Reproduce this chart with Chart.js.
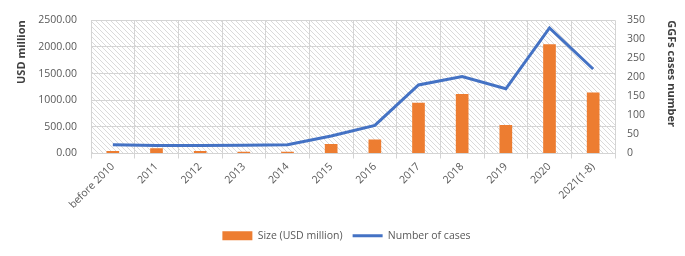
<!DOCTYPE html>
<html>
<head>
<meta charset="utf-8">
<script src="https://cdn.jsdelivr.net/npm/chart.js@4/dist/chart.umd.min.js"></script>
<style>
  html, body { margin: 0; padding: 0; background: #fff; }
  #wrap { width: 685px; height: 256px; }
</style>
</head>
<body>
<div id="wrap"><canvas id="ggfChart" width="685" height="256"></canvas></div>
<script>
const categories = ['before 2010', '2011', '2012', '2013', '2014', '2015', '2016', '2017', '2018', '2019', '2020', '2021(1-8)'];
const sizeUsd = [48, 97, 45, 35, 33, 177, 261, 954, 1119, 535, 2049, 1144];
const caseCount = [23, 21, 21, 22, 23, 46, 74, 180, 202, 170, 330, 222];
const leftTicks = [0, 500, 1000, 1500, 2000, 2500];
const rightTicks = [0, 50, 100, 150, 200, 250, 300, 350];

const FONT = '"Open Sans", "Liberation Sans", sans-serif';
const TICK_COLOR = '#595959';
const GRID = '#d4d4d4';

// diagonal hatch behind the plot area
function makeHatch() {
  const c = document.createElement('canvas');
  c.width = 5; c.height = 5;
  const g = c.getContext('2d');
  g.fillStyle = '#ffffff';
  g.fillRect(0, 0, 5, 5);
  g.strokeStyle = '#d6d6d6';
  g.lineWidth = 0.9;
  g.beginPath();
  g.moveTo(-1, -1); g.lineTo(6, 6);
  g.moveTo(-1, 4); g.lineTo(1, 6);
  g.moveTo(4, -1); g.lineTo(6, 1);
  g.stroke();
  return c;
}

const hatchPlugin = {
  id: 'hatch',
  beforeDraw(chart) {
    const { ctx, chartArea: a } = chart;
    ctx.save();
    ctx.fillStyle = ctx.createPattern(makeHatch(), 'repeat');
    ctx.fillRect(a.left, a.top, a.right - a.left, a.bottom - a.top);
    ctx.restore();
  }
};

new Chart(document.getElementById('ggfChart'), {
  data: {
    labels: categories,
    datasets: [
      {
        type: 'line',
        label: 'Number of cases',
        data: caseCount,
        yAxisID: 'yCases',
        borderColor: '#4472c4',
        backgroundColor: '#4472c4',
        borderWidth: 3,
        pointRadius: 0,
        tension: 0,
        order: 0
      },
      {
        type: 'bar',
        label: 'Size (USD million)',
        data: sizeUsd,
        yAxisID: 'ySize',
        backgroundColor: '#ed7d31',
        barPercentage: 0.29,
        categoryPercentage: 1,
        order: 1
      }
    ]
  },
  options: {
    responsive: false,
    animation: false,
    layout: { padding: { top: 12, left: 15, right: 7, bottom: 5 } },
    scales: {
      x: {
        offset: true,
        grid: { color: GRID, offset: true, tickLength: 5, drawTicks: true },
        border: { color: GRID },
        ticks: {
          color: TICK_COLOR,
          font: { family: FONT, size: 10.5 },
          minRotation: 45,
          maxRotation: 45,
          autoSkip: false,
          padding: 2
        },
        afterFit(s) { s.height = 67; }
      },
      ySize: {
        position: 'left',
        min: 0,
        max: 2500,
        afterBuildTicks(s) { s.ticks = leftTicks.map(v => ({ value: v })); },
        grid: { color: GRID, drawTicks: false },
        border: { display: false },
        ticks: {
          color: TICK_COLOR,
          font: { family: FONT, size: 10.5 },
          padding: 14,
          callback: v => Number(v).toFixed(2)
        },
        title: {
          display: true,
          text: 'USD million',
          align: 'end',
          color: '#404040',
          font: { family: FONT, size: 11, weight: 'bold' },
          padding: 0
        },
        afterFit(s) { s.width = 76; }
      },
      yCases: {
        position: 'right',
        min: 0,
        max: 350,
        afterBuildTicks(s) { s.ticks = rightTicks.map(v => ({ value: v })); },
        grid: { display: false, drawTicks: false },
        border: { display: false },
        ticks: {
          color: TICK_COLOR,
          font: { family: FONT, size: 10.5 },
          padding: 12
        },
        title: {
          display: true,
          text: 'GGFs cases number',
          align: 'end',
          color: '#404040',
          font: { family: FONT, size: 11, weight: 'bold' },
          padding: 0
        },
        afterFit(s) { s.width = 63; }
      }
    },
    plugins: {
      legend: {
        position: 'bottom',
        labels: {
          color: TICK_COLOR,
          font: { family: FONT, size: 10.5 },
          usePointStyle: true,
          pointStyleWidth: 30,
          boxHeight: 9,
          padding: 10,
          generateLabels(chart) {
            // bar first, then line, as in the original legend
            return [1, 0].map(i => {
              const ds = chart.data.datasets[i];
              const isLine = ds.type === 'line';
              return {
                text: ds.label,
                datasetIndex: i,
                fillStyle: isLine ? ds.borderColor : ds.backgroundColor,
                strokeStyle: isLine ? ds.borderColor : ds.backgroundColor,
                lineWidth: isLine ? 3 : 0,
                pointStyle: isLine ? 'line' : 'rect',
                fontColor: TICK_COLOR,
                hidden: false
              };
            });
          }
        }
      },
      tooltip: { enabled: false }
    }
  },
  plugins: [hatchPlugin]
});
</script>
</body>
</html>
